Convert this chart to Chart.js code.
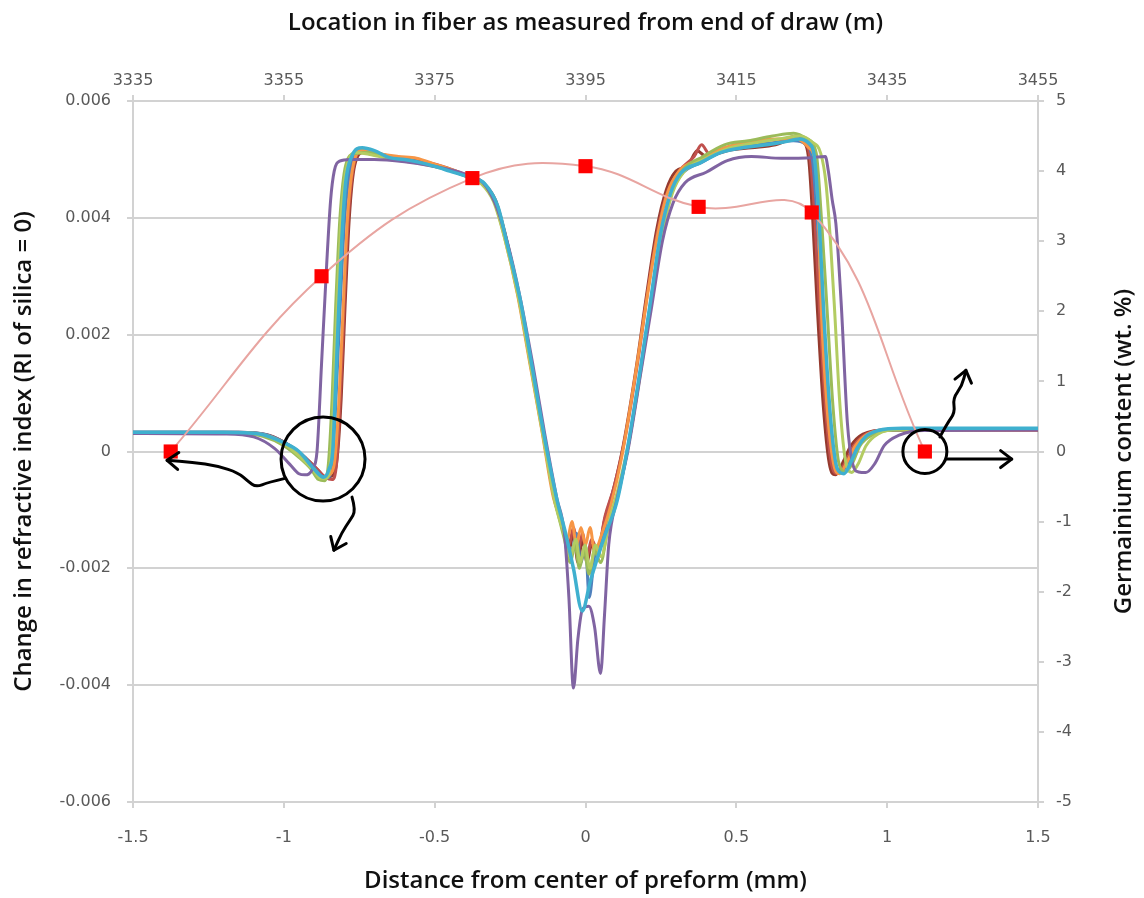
<!DOCTYPE html>
<html lang="en">
<head>
  <meta charset="UTF-8" />
  <title>Refractive index profile and germanium content</title>
  <script src="https://cdn.jsdelivr.net/npm/chart.js"></script>
  <style>
    body { margin: 0; background: #fff; }
    #wrap { width: 1144px; height: 898px; position: relative; }
  </style>
</head>
<body>
<div id="wrap"><canvas id="profileChart"></canvas></div>
<script>
  // axis ticks
  const distanceTicks = [-1.5, -1, -0.5, 0, 0.5, 1, 1.5];
  const locationTicks = [3335, 3355, 3375, 3395, 3415, 3435, 3455];
  const indexTicks = [-0.006, -0.004, -0.002, 0, 0.002, 0.004, 0.006];
  const germaniumTicks = [-5, -4, -3, -2, -1, 0, 1, 2, 3, 4, 5];

  // germanium content (wt. %) vs location in fiber (m)
  const geLocation = [3340, 3360, 3380, 3395, 3410, 3425, 3440];
  const geContent = [0, 2.5, 3.9, 4.07, 3.49, 3.41, 0];

  // refractive index profiles: [distance (mm), change in RI]
  const profileCyan = [[-1.5,0.00033],[-1.2,0.00033],[-1.08,0.0003],[-1.0,0.00015],[-0.95,0.0],[-0.9,-0.0003],[-0.868,-0.00044],[-0.85,-0.0003],[-0.838,0.0],[-0.83,0.0009],[-0.82,0.0022],[-0.808,0.0036],[-0.795,0.0046],[-0.775,0.00505],[-0.74,0.0052],[-0.7,0.00515],[-0.65,0.00503],[-0.6,0.005],[-0.55,0.00495],[-0.5,0.00488],[-0.45,0.0048],[-0.375,0.00468],[-0.335,0.00459],[-0.29,0.00419],[-0.26,0.00356],[-0.216,0.00259],[-0.177,0.00145],[-0.138,0.0003],[-0.094,-0.00084],[-0.066,-0.0014],[-0.04,-0.002],[-0.011,-0.00273],[0.017,-0.0022],[0.06,-0.0015],[0.105,-0.00084],[0.138,0.00002],[0.183,0.00145],[0.216,0.00259],[0.249,0.00373],[0.282,0.00442],[0.315,0.00476],[0.38,0.00494],[0.45,0.00512],[0.52,0.0052],[0.6,0.00525],[0.66,0.0053],[0.71,0.00535],[0.74,0.00528],[0.757,0.0051],[0.774,0.004],[0.791,0.00225],[0.813,0.00053],[0.835,-0.0003],[0.857,-0.00038],[0.88,-0.00018],[0.902,0.00007],[0.93,0.00026],[0.97,0.00036],[1.05,0.0004],[1.5,0.0004]];
  const profilePurple = [[-1.5,0.00031],[-1.2,0.0003],[-1.1,0.00025],[-1.03,0.00005],[-0.98,-0.00022],[-0.95,-0.00038],[-0.93,-0.0004],[-0.905,-0.0003],[-0.89,0.0],[-0.875,0.0015],[-0.858,0.0032],[-0.845,0.0043],[-0.833,0.0048],[-0.815,0.00497],[-0.78,0.005],[-0.7,0.005],[-0.6,0.00496],[-0.5,0.00488],[-0.4,0.00475],[-0.34,0.0046],[-0.3,0.00425],[-0.26,0.0036],[-0.216,0.00262],[-0.175,0.0015],[-0.135,0.0003],[-0.095,-0.0008],[-0.07,-0.0014],[-0.055,-0.0025],[-0.04,-0.00405],[-0.025,-0.0032],[-0.01,-0.0027],[0.011,-0.00265],[0.03,-0.003],[0.05,-0.0038],[0.063,-0.0028],[0.077,-0.0016],[0.105,-0.0008],[0.14,0.0],[0.185,0.0014],[0.22,0.0025],[0.255,0.0036],[0.29,0.00425],[0.33,0.0046],[0.4,0.00478],[0.47,0.00498],[0.55,0.00505],[0.65,0.00502],[0.75,0.00503],[0.795,0.00505],[0.805,0.0048],[0.818,0.0043],[0.83,0.0039],[0.848,0.0025],[0.868,0.0005],[0.885,-0.0002],[0.905,-0.00035],[0.929,-0.00036],[0.96,-0.0002],[0.99,0.0001],[1.04,0.00028],[1.12,0.00036],[1.5,0.00037]];
  const profileLime = [[-1.5,0.00032],[-1.15,0.00032],[-1.06,0.00027],[-0.99,0.0001],[-0.945,-0.0001],[-0.905,-0.0003],[-0.878,-0.00046],[-0.86,-0.00046],[-0.846,-0.0002],[-0.835,0.0009],[-0.823,0.0025],[-0.81,0.004],[-0.79,0.0049],[-0.76,0.00512],[-0.71,0.00508],[-0.64,0.005],[-0.56,0.00494],[-0.47,0.00484],[-0.39,0.0047],[-0.345,0.00458],[-0.305,0.00428],[-0.268,0.00365],[-0.223,0.00265],[-0.183,0.0015],[-0.142,0.0003],[-0.1,-0.0009],[-0.072,-0.0014],[-0.05,-0.0018],[-0.032,-0.0015],[-0.018,-0.0019],[-0.002,-0.0016],[0.015,-0.002],[0.033,-0.0016],[0.052,-0.0018],[0.078,-0.0012],[0.11,-0.0006],[0.145,0.0002],[0.19,0.0016],[0.222,0.0027],[0.254,0.0037],[0.288,0.00442],[0.325,0.00478],[0.4,0.00502],[0.48,0.0052],[0.56,0.00528],[0.64,0.00535],[0.71,0.0054],[0.75,0.0053],[0.78,0.0051],[0.797,0.0046],[0.812,0.0036],[0.826,0.0024],[0.842,0.0009],[0.86,-0.0001],[0.882,-0.00036],[0.905,-0.0002],[0.93,0.0001],[0.97,0.0003],[1.04,0.00038],[1.5,0.00039]];
  const profileGreen = [[-1.5,0.00031],[-1.15,0.00031],[-1.07,0.00026],[-1.0,0.0001],[-0.95,-0.0001],[-0.91,-0.0003],[-0.885,-0.00048],[-0.865,-0.0005],[-0.852,-0.0002],[-0.84,0.0009],[-0.828,0.0025],[-0.814,0.004],[-0.795,0.0049],[-0.765,0.0051],[-0.72,0.00512],[-0.65,0.00502],[-0.57,0.00496],[-0.48,0.00486],[-0.39,0.00472],[-0.345,0.0046],[-0.3,0.00425],[-0.262,0.0036],[-0.218,0.0026],[-0.178,0.0015],[-0.138,0.0003],[-0.098,-0.0009],[-0.07,-0.0015],[-0.05,-0.0019],[-0.035,-0.0016],[-0.02,-0.002],[-0.005,-0.0017],[0.012,-0.0021],[0.03,-0.0017],[0.05,-0.0019],[0.075,-0.0013],[0.108,-0.0007],[0.142,0.0001],[0.186,0.0015],[0.218,0.0026],[0.25,0.0037],[0.283,0.0044],[0.32,0.0048],[0.39,0.00505],[0.46,0.00525],[0.54,0.00532],[0.62,0.0054],[0.69,0.00545],[0.735,0.00535],[0.765,0.0051],[0.782,0.004],[0.8,0.0025],[0.82,0.0008],[0.84,-0.0002],[0.862,-0.00035],[0.885,-0.0002],[0.91,0.0001],[0.95,0.00028],[1.02,0.00037],[1.5,0.00038]];
  const profileOrange = [[-1.5,0.00032],[-1.15,0.00032],[-1.06,0.00028],[-0.99,0.00012],[-0.94,-0.00008],[-0.9,-0.0003],[-0.87,-0.00045],[-0.848,-0.0004],[-0.83,-0.0001],[-0.817,0.0009],[-0.803,0.0025],[-0.789,0.004],[-0.77,0.0049],[-0.74,0.00516],[-0.69,0.0051],[-0.62,0.00505],[-0.56,0.00502],[-0.5,0.00492],[-0.44,0.00482],[-0.38,0.0047],[-0.34,0.0046],[-0.305,0.00432],[-0.27,0.0037],[-0.226,0.0027],[-0.186,0.00155],[-0.146,0.0004],[-0.106,-0.0008],[-0.078,-0.0012],[-0.06,-0.0015],[-0.045,-0.0012],[-0.03,-0.0016],[-0.015,-0.0013],[0.0,-0.0016],[0.015,-0.0013],[0.03,-0.0017],[0.055,-0.0014],[0.085,-0.0009],[0.12,-0.0001],[0.165,0.0013],[0.2,0.0025],[0.235,0.0036],[0.27,0.0044],[0.31,0.0048],[0.38,0.005],[0.46,0.0052],[0.55,0.0053],[0.63,0.00535],[0.7,0.00535],[0.74,0.0052],[0.763,0.0049],[0.772,0.004],[0.781,0.0025],[0.8,0.0008],[0.822,-0.0002],[0.842,-0.00038],[0.865,-0.0002],[0.895,0.0001],[0.935,0.0003],[1.0,0.00037],[1.5,0.00038]];
  const profileBlue = [[-1.5,0.00033],[-1.15,0.00033],[-1.06,0.00029],[-0.99,0.00013],[-0.94,-0.00005],[-0.9,-0.00028],[-0.875,-0.00042],[-0.855,-0.00045],[-0.84,-0.0002],[-0.828,0.0008],[-0.814,0.0024],[-0.798,0.004],[-0.778,0.0049],[-0.75,0.00518],[-0.7,0.00512],[-0.62,0.00502],[-0.54,0.00494],[-0.46,0.00483],[-0.38,0.00468],[-0.34,0.0046],[-0.3,0.00428],[-0.265,0.00365],[-0.22,0.00265],[-0.18,0.00152],[-0.14,0.00035],[-0.1,-0.0008],[-0.07,-0.0014],[-0.045,-0.0017],[-0.03,-0.0014],[-0.015,-0.0019],[0.0,-0.0016],[0.012,-0.0025],[0.03,-0.0018],[0.05,-0.0016],[0.075,-0.0012],[0.105,-0.0008],[0.14,0.00005],[0.185,0.00148],[0.218,0.00262],[0.25,0.00372],[0.284,0.0044],[0.318,0.00474],[0.39,0.00496],[0.46,0.00515],[0.54,0.00524],[0.62,0.00528],[0.69,0.00532],[0.73,0.00526],[0.752,0.005],[0.768,0.004],[0.785,0.0025],[0.805,0.0008],[0.826,-0.0002],[0.845,-0.00036],[0.87,-0.0002],[0.9,0.0001],[0.94,0.00028],[1.0,0.00036],[1.5,0.00038]];
  const profileRed = [[-1.5,0.00032],[-1.15,0.00032],[-1.05,0.00027],[-0.98,0.0001],[-0.93,-0.0001],[-0.89,-0.0003],[-0.86,-0.00045],[-0.84,-0.00048],[-0.825,-0.0002],[-0.813,0.0009],[-0.8,0.0025],[-0.786,0.004],[-0.768,0.0049],[-0.74,0.00515],[-0.69,0.0051],[-0.62,0.00503],[-0.54,0.00497],[-0.46,0.00486],[-0.38,0.0047],[-0.34,0.00461],[-0.302,0.0043],[-0.268,0.0037],[-0.224,0.0027],[-0.184,0.00155],[-0.144,0.0004],[-0.104,-0.0008],[-0.075,-0.0013],[-0.055,-0.0016],[-0.04,-0.0013],[-0.025,-0.0017],[-0.01,-0.0014],[0.005,-0.0018],[0.02,-0.0015],[0.04,-0.0017],[0.065,-0.0011],[0.095,-0.0006],[0.13,0.0002],[0.175,0.0016],[0.208,0.0028],[0.24,0.0038],[0.272,0.00445],[0.31,0.0048],[0.36,0.00505],[0.385,0.00525],[0.41,0.0051],[0.48,0.00518],[0.56,0.00524],[0.64,0.0053],[0.7,0.0054],[0.73,0.0053],[0.745,0.005],[0.76,0.004],[0.775,0.0025],[0.795,0.0008],[0.815,-0.0002],[0.835,-0.00038],[0.86,-0.0002],[0.89,0.0001],[0.93,0.0003],[1.0,0.00037],[1.5,0.00037]];
  const profileBrown = [[-1.5,0.00033],[-1.15,0.00033],[-1.05,0.00028],[-0.98,0.0001],[-0.93,-0.0001],[-0.89,-0.0003],[-0.86,-0.00044],[-0.84,-0.00042],[-0.823,-0.0001],[-0.81,0.0009],[-0.797,0.0025],[-0.783,0.004],[-0.765,0.0049],[-0.735,0.00512],[-0.68,0.00506],[-0.6,0.005],[-0.52,0.00493],[-0.44,0.0048],[-0.37,0.00468],[-0.335,0.00458],[-0.298,0.0043],[-0.265,0.0037],[-0.222,0.0027],[-0.182,0.0016],[-0.142,0.0004],[-0.102,-0.0008],[-0.074,-0.0013],[-0.055,-0.0017],[-0.04,-0.0014],[-0.025,-0.0019],[-0.01,-0.0015],[0.005,-0.0019],[0.02,-0.0016],[0.04,-0.0018],[0.062,-0.0012],[0.09,-0.0007],[0.125,0.0001],[0.17,0.0015],[0.203,0.0027],[0.236,0.0038],[0.268,0.00448],[0.3,0.0048],[0.34,0.0049],[0.37,0.00515],[0.4,0.00505],[0.47,0.00515],[0.55,0.0052],[0.63,0.00525],[0.69,0.00535],[0.72,0.0053],[0.74,0.005],[0.753,0.004],[0.768,0.0025],[0.788,0.0008],[0.808,-0.0002],[0.828,-0.0004],[0.852,-0.0002],[0.88,0.0001],[0.92,0.0003],[1.0,0.00037],[1.5,0.00037]];

  // hand-drawn annotations, in data units of the bottom/left axes
  const circleMarks = [[-0.870, -0.00013, 42], [1.125, 0.0, 22]];
  const arrowMarks = [
    [[-0.996,-0.00046],[-1.053,-0.00053],[-1.092,-0.00061],[-1.119,-0.00051],[-1.152,-0.00036],[-1.218,-0.00025],[-1.304,-0.00018],[-1.387,-0.00015]],
    [[-0.774,-0.00078],[-0.761,-0.00101],[-0.781,-0.00118],[-0.807,-0.00138],[-0.834,-0.00169]],
    [[1.198,-0.00013],[1.413,-0.00013]],
    [[1.175,0.00025],[1.198,0.00047],[1.225,0.00067],[1.218,0.00091],[1.248,0.00112],[1.261,0.00139]]
  ];

  const profiles = [
    ['cyan', profileCyan, '#3fb0cf', 3.5],
    ['purple', profilePurple, '#8064a2', 3],
    ['lime', profileLime, '#b3cc62', 3],
    ['green', profileGreen, '#9bbb59', 3],
    ['orange', profileOrange, '#f79646', 3],
    ['blue', profileBlue, '#4f81bd', 3],
    ['red', profileRed, '#c0504d', 3],
    ['brown', profileBrown, '#953a2e', 3]
  ];

  const gridGray = '#d2d2d2';
  const tickFont = { family: 'DejaVu Sans', size: 16 };
  const tickColor = '#595959';
  const titleFont = { family: 'Open Sans', size: 24, weight: '600' };
  const titleColor = '#111111';
  const rightTitle = 'Germainium content (wt. %)';

  const annotations = {
    id: 'annotations',
    afterDatasetsDraw(chart) {
      const { ctx, scales: { x, y } } = chart;
      ctx.save();
      ctx.strokeStyle = '#000';
      ctx.lineWidth = 3;
      ctx.lineCap = 'round';
      ctx.lineJoin = 'round';
      circleMarks.forEach(([cx, cy, r]) => {
        ctx.beginPath();
        ctx.arc(x.getPixelForValue(cx), y.getPixelForValue(cy), r, 0, Math.PI * 2);
        ctx.stroke();
      });
      arrowMarks.forEach(path => {
        const pts = path.map(([a, b]) => [x.getPixelForValue(a), y.getPixelForValue(b)]);
        ctx.beginPath();
        ctx.moveTo(pts[0][0], pts[0][1]);
        for (let i = 1; i < pts.length - 1; i++) {
          const mx = (pts[i][0] + pts[i + 1][0]) / 2;
          const my = (pts[i][1] + pts[i + 1][1]) / 2;
          ctx.quadraticCurveTo(pts[i][0], pts[i][1], mx, my);
        }
        const last = pts[pts.length - 1];
        ctx.lineTo(last[0], last[1]);
        ctx.stroke();
        const prev = pts[pts.length - 2];
        const ang = Math.atan2(last[1] - prev[1], last[0] - prev[0]);
        ctx.beginPath();
        ctx.moveTo(last[0] - 14 * Math.cos(ang - 0.65), last[1] - 14 * Math.sin(ang - 0.65));
        ctx.lineTo(last[0], last[1]);
        ctx.lineTo(last[0] - 14 * Math.cos(ang + 0.65), last[1] - 14 * Math.sin(ang + 0.65));
        ctx.stroke();
      });
      ctx.restore();
    },
    afterDraw(chart) {
      // right axis title reads bottom-to-top, like the left one
      const { ctx, chartArea, scales: { y2 } } = chart;
      ctx.save();
      ctx.translate(y2.right - 20, (chartArea.top + chartArea.bottom) / 2);
      ctx.rotate(-Math.PI / 2);
      ctx.font = '600 24px "Open Sans"';
      ctx.fillStyle = titleColor;
      ctx.textAlign = 'center';
      ctx.textBaseline = 'middle';
      ctx.fillText(rightTitle, 0, 0);
      ctx.restore();
    }
  };

  const datasets = [{
    label: 'Germanium',
    data: geLocation.map((m, i) => ({ x: m, y: geContent[i] })),
    xAxisID: 'x2',
    yAxisID: 'y2',
    borderColor: '#e8a5a1',
    borderWidth: 2,
    tension: 0.4,
    pointStyle: 'rect',
    pointRadius: 10,
    pointBackgroundColor: '#ff0000',
    pointBorderColor: '#ff0000',
    pointBorderWidth: 0
  }];
  profiles.forEach(([name, pts, color, width]) => {
    datasets.push({
      label: name,
      data: pts.map(([d, ri]) => ({ x: d, y: ri })),
      xAxisID: 'x',
      yAxisID: 'y',
      borderColor: color,
      borderWidth: width,
      pointRadius: 0,
      cubicInterpolationMode: 'monotone'
    });
  });

  function setTicks(list) {
    return scale => { scale.ticks = list.map(v => ({ value: v })); };
  }

  new Chart(document.getElementById('profileChart'), {
    type: 'line',
    data: { datasets: datasets },
    plugins: [annotations],
    options: {
      responsive: true,
      maintainAspectRatio: false,
      animation: false,
      events: [],
      layout: { padding: 0 },
      plugins: { legend: { display: false }, tooltip: { enabled: false } },
      scales: {
        x: {
          type: 'linear', position: 'bottom', min: -1.5, max: 1.5,
          afterBuildTicks: setTicks(distanceTicks),
          afterFit: s => { s.height = 96; },
          ticks: { font: tickFont, color: tickColor, padding: 20, maxRotation: 0, autoSkip: false,
                   callback: v => String(v) },
          grid: { drawOnChartArea: false, tickLength: 6, color: gridGray, lineWidth: 2 },
          border: { color: gridGray, width: 2 },
          title: { display: true, text: 'Distance from center of preform (mm)', font: titleFont,
                   color: titleColor, padding: { top: 0, bottom: 2 } }
        },
        x2: {
          type: 'linear', position: 'top', min: 3335, max: 3455,
          afterBuildTicks: setTicks(locationTicks),
          afterFit: s => { s.height = 101; },
          ticks: { font: tickFont, color: tickColor, padding: 5, maxRotation: 0, autoSkip: false,
                   callback: v => String(v) },
          grid: { drawOnChartArea: false, tickLength: 6, color: gridGray, lineWidth: 2 },
          border: { color: gridGray, width: 2 },
          title: { display: true, text: 'Location in fiber as measured from end of draw (m)', font: titleFont,
                   color: titleColor, padding: { top: 9, bottom: 0 } }
        },
        y: {
          position: 'left', min: -0.006, max: 0.006,
          afterBuildTicks: setTicks(indexTicks),
          afterFit: s => { s.width = 133; },
          ticks: { font: tickFont, color: tickColor, padding: 16,
                   callback: v => (v === 0 ? '0' : v.toFixed(3)) },
          grid: { color: gridGray, lineWidth: 2, tickLength: 6 },
          border: { color: gridGray, width: 2 },
          title: { display: true, text: 'Change in refractive index (RI of silica = 0)', font: titleFont,
                   color: titleColor, padding: { top: 10, bottom: 0 } }
        },
        y2: {
          position: 'right', min: -5, max: 5,
          afterBuildTicks: setTicks(germaniumTicks),
          afterFit: s => { s.width = 106; },
          ticks: { font: tickFont, color: tickColor, padding: 12 },
          grid: { drawOnChartArea: false, tickLength: 6, color: gridGray, lineWidth: 2 },
          border: { color: gridGray, width: 2 },
          title: { display: false }
        }
      }
    }
  });
</script>
</body>
</html>
